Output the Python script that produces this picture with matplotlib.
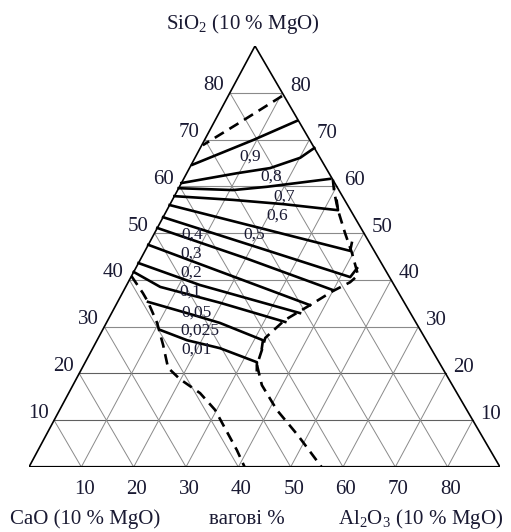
import numpy as np
import matplotlib.pyplot as plt

plt.rcParams['font.family'] = ['Liberation Serif', 'DejaVu Serif']
plt.rcParams['mathtext.fontset'] = 'custom'
plt.rcParams['mathtext.rm'] = 'Liberation Serif'

TOTAL = 90  # CaO + Al2O3 + SiO2, the other 10 % is MgO
ticks = [10, 20, 30, 40, 50, 60, 70, 80]

# isolines, compositions in wt% (Al2O3, SiO2); CaO = 90 - both
iso_labels = ['0,9', '0,8', '0,7', '0,6', '0,5', '0,4',
              '0,3', '0,2', '0,1', '0,05', '0,025', '0,01']
iso_al = [
    [0.2, 9.3, 15.7],
    [0.0, 9.6, 15.4, 20.1, 21.8],
    [0.0, 10.6, 16.7, 28.0],
    [0.0, 11.6, 21.6, 32.7, 31.5],
    [0.0, 21.2, 39.2, 38.7],
    [0.0, 21.0, 41.9, 42.3],
    [0.0, 19.8, 40.0],
    [0.0, 18.7, 37.1],
    [0.0, 14.0, 36.0],
    [0.0, 6.6, 19.7, 34.1],
    [5.8, 14.4, 21.7, 31.7, 32.3],
    [11.0, 17.2, 24.3, 32.8, 33.6],
]
iso_si = [
    [64.6, 69.9, 74.0],
    [60.7, 62.8, 63.9, 66.1, 68.2],
    [59.6, 59.2, 59.9, 61.6],
    [57.9, 57.1, 56.2, 54.9, 56.9],
    [56.0, 50.7, 46.2, 47.9],
    [53.4, 47.0, 40.6, 42.5],
    [51.1, 44.7, 37.8],
    [47.5, 41.0, 34.6],
    [43.6, 38.9, 32.9],
    [41.7, 38.5, 35.1, 31.0],
    [35.3, 32.9, 30.8, 27.1, 25.4],
    [29.3, 27.1, 25.4, 22.4, 20.7],
]
# where the value of each isoline is written
label_al = [10.4, 16.5, 20.9, 21.6, 19.2, 7.4, 9.0, 11.0, 12.8, 16.2, 18.7, 20.1]
label_si = [66.3, 62.0, 57.9, 53.7, 49.6, 49.6, 45.7, 41.5, 37.4, 33.1, 29.1, 25.0]

# dashed boundaries
top_al = [10.3, 5.0, 0.2]
top_si = [79.3, 73.7, 68.8]
right_al = [28.6, 30.1, 32.7, 36.4, 39.8, 43.2, 42.4, 40.0, 37.1, 33.8,
            31.9, 32.5, 33.1, 36.1, 41.5, 48.1, 55.9]
right_si = [61.4, 58.8, 54.9, 50.0, 45.7, 41.0, 39.5, 37.6, 34.6, 31.4,
            27.6, 25.0, 21.8, 17.5, 12.2, 6.8, 0.0]
left_al = [0.0, 3.9, 5.8, 9.7, 13.1, 16.4, 19.8, 25.1, 29.7, 38.0, 41.2]
left_si = [40.8, 37.2, 35.3, 30.8, 26.1, 21.2, 18.8, 15.8, 12.2, 3.6, 0.0]

SKEW = 226 / 471


def proj(al, si):
    al = np.asarray(al, float)
    si = np.asarray(si, float)
    return al + SKEW * si, si


fig = plt.figure(figsize=(5.11, 5.32), dpi=100)
ax = fig.add_axes([29 / 511, 65 / 532, 471 / 511, 421 / 532])
ax.set_xlim(0, TOTAL)
ax.set_ylim(0, TOTAL)
ax.axis('off')

ink = '#1a1a33'
grey = '#8a8a8a'

# grid
for k in ticks:
    c = '#606060' if k <= 20 else grey
    ax.plot(*proj([0, TOTAL - k], [k, k]), color=c, lw=0.8)
    ax.plot(*proj([k, k], [0, TOTAL - k]), color=grey, lw=0.7)
    ax.plot(*proj([TOTAL - k, 0], [0, TOTAL - k]), color=grey, lw=0.7)

# frame
ax.plot(*proj([0, 0, TOTAL], [0, TOTAL, 0]), color='black', lw=1.2,
        solid_joinstyle='miter')
ax.plot(*proj([0, TOTAL], [0, 0]), color='black', lw=2.3, solid_capstyle='butt')

# isolines
for al, si in zip(iso_al, iso_si):
    ax.plot(*proj(al, si), color='black', lw=1.9, solid_joinstyle='round')
for lab, al, si in zip(iso_labels, label_al, label_si):
    ax.text(*proj(al, si), lab, fontsize=12.5, color=ink, ha='center', va='center')

# boundaries
for al, si in [(top_al, top_si), (right_al, right_si), (left_al, left_si)]:
    ax.plot(*proj(al, si), color='black', lw=1.9, linestyle=(0, (4, 2.5)))

# axis numbers
for k in ticks:
    ax.annotate(str(k), proj(0, k), xytext=(-16, 7), textcoords='offset pixels',
                fontsize=15, color=ink, ha='center', va='center')
    ax.annotate(str(k), proj(TOTAL - k, k), xytext=(18, 6),
                textcoords='offset pixels', fontsize=15, color=ink,
                ha='center', va='center')
    ax.annotate(str(k), proj(k, 0), xytext=(3, -23), textcoords='offset pixels',
                fontsize=15, color=ink, ha='center', va='center')

fig.text(243 / 511, 1 - 24 / 532, 'SiO$_2$ (10 % MgO)', fontsize=15,
         color=ink, ha='center', va='center')
fig.text(85 / 511, 1 - 519 / 532, 'CaO (10 % MgO)', fontsize=15,
         color=ink, ha='center', va='center')
fig.text(247 / 511, 1 - 519 / 532, 'вагові %', fontsize=15,
         color=ink, ha='center', va='center')
fig.text(421 / 511, 1 - 519 / 532, 'Al$_2$O$_3$ (10 % MgO)', fontsize=15,
         color=ink, ha='center', va='center')

fig.savefig('out.png', dpi=100)
